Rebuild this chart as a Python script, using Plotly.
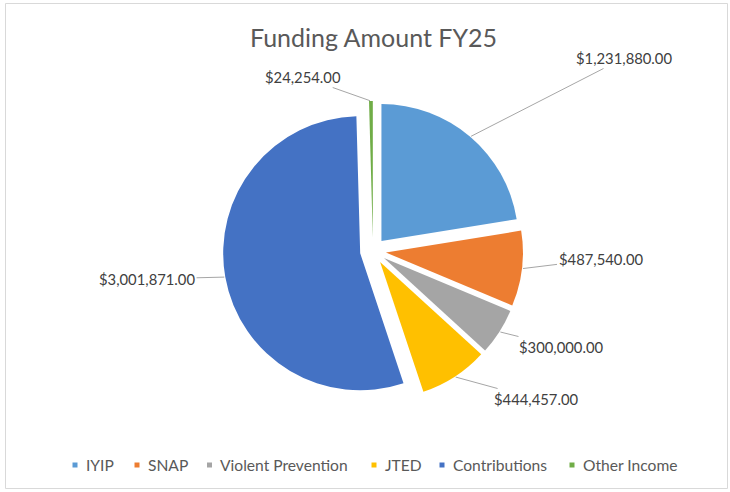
import math
import plotly.graph_objects as go

categories = ['IYIP', 'SNAP', 'Violent Prevention', 'JTED', 'Contributions', 'Other Income']
amounts = [1231880.00, 487540.00, 300000.00, 444457.00, 3001871.00, 24254.00]
colors = ['#5B9BD5', '#ED7D31', '#A5A5A5', '#FFC000', '#4472C4', '#70AD47']

W, H = 730, 492


def px_x(x):
    return x / W


def px_y(y):
    return 1 - y / H


cx, cy, outer = 373, 251, 150      # pie box centre / half size (px)
pull = 0.095
r = outer / (1 + pull)

# where each data label sits (text centre, px)
label_pos = [(624, 58), (601, 259), (561, 347), (536, 399), (147, 279), (303, 77)]
# legend marker centres (px)
legend_x = [75, 137, 209.5, 374, 442, 572]
legend_y = 465

fig = go.Figure(go.Pie(
    labels=categories, values=amounts,
    marker=dict(colors=colors, line=dict(width=0)),
    sort=False, direction='clockwise', rotation=0,
    pull=[pull] * len(amounts),
    textinfo='none', hoverinfo='label+value',
    domain=dict(x=[px_x(cx - outer), px_x(cx + outer)],
                y=[px_y(cy + outer), px_y(cy - outer)]),
))

total = sum(amounts)
cum = 0
for val, (lx, ly) in zip(amounts, label_pos):
    mid = (cum + val / 2) / total * 2 * math.pi
    cum += val
    ex = cx + (r * pull + r) * math.sin(mid)
    ey = cy - (r * pull + r) * math.cos(mid)
    fig.add_annotation(
        x=px_x(ex), y=px_y(ey), xref='paper', yref='paper',
        text=f'${val:,.2f}', showarrow=True, arrowhead=0,
        arrowwidth=1, arrowcolor='#A6A6A6', standoff=1,
        ax=lx - ex, ay=ly - ey,
        font=dict(family='Lato', size=14.8, color='#404040'),
    )

# legend
for name, col, mx in zip(categories, colors, legend_x):
    fig.add_shape(type='rect', xref='paper', yref='paper',
                  x0=px_x(mx - 2.5), x1=px_x(mx + 2.5),
                  y0=px_y(legend_y + 2.5), y1=px_y(legend_y - 2.5),
                  fillcolor=col, line=dict(width=0))
    fig.add_annotation(x=px_x(mx + 8.5), y=px_y(legend_y), xref='paper', yref='paper',
                       text=name, showarrow=False, xanchor='left', yanchor='middle',
                       font=dict(family='Lato', size=15.6, color='#595959'))

fig.add_shape(type='rect', xref='paper', yref='paper',
              x0=px_x(5.5), x1=px_x(727.5), y0=px_y(488.5), y1=px_y(3.5),
              line=dict(color='#D9D9D9', width=1))

fig.update_layout(
    width=W, height=H,
    margin=dict(l=0, r=0, t=0, b=0),
    paper_bgcolor='white', plot_bgcolor='white',
    title=dict(text='Funding Amount FY25', x=px_x(373.5), xanchor='center',
               y=px_y(38), yanchor='middle',
               font=dict(family='Lato', size=25, color='#595959')),
    showlegend=False,
)

fig.write_html('out.html', config={'displayModeBar': False},
               post_script="document.body.style.margin = '0px';")
